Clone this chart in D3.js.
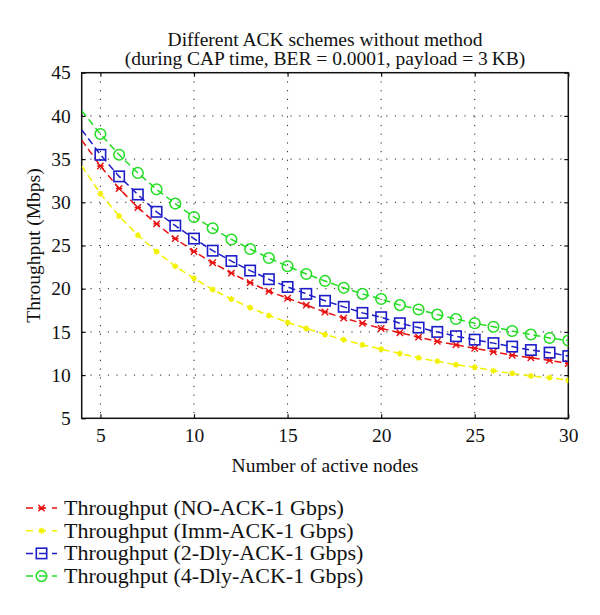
<!DOCTYPE html>
<html>
<head>
<meta charset="utf-8">
<script src="https://cdn.jsdelivr.net/npm/d3@7"></script>
<style>
  body { margin: 0; background: #fff; }
  svg { display: block; }
  text { font-family: "Liberation Serif", "Times New Roman", serif; fill: #111; }
</style>
</head>
<body>
<svg id="chart" width="600" height="615"></svg>
<script>
const nodes = [4,5,6,7,8,9,10,11,12,13,14,15,16,17,18,19,20,21,22,23,24,25,26,27,28,29,30];
const noAck  = [37.2,34.2,31.6,29.4,27.5,25.8,24.3,23.0,21.8,20.7,19.7,18.9,18.1,17.3,16.6,16.0,15.4,14.9,14.4,13.9,13.5,13.1,12.7,12.3,12.0,11.7,11.35];
const immAck = [34.2,31.0,28.4,26.2,24.3,22.6,21.2,19.9,18.8,17.8,16.9,16.1,15.4,14.7,14.1,13.5,13.0,12.5,12.0,11.6,11.2,10.9,10.5,10.2,9.9,9.7,9.4];
const dly2Ack = [38.4,35.5,33.0,30.9,28.9,27.3,25.8,24.4,23.2,22.1,21.1,20.2,19.4,18.6,17.9,17.2,16.7,16.0,15.5,15.0,14.5,14.1,13.7,13.3,12.9,12.6,12.2];
const dly4Ack = [40.6,37.9,35.5,33.4,31.5,29.85,28.3,27.0,25.7,24.6,23.55,22.6,21.7,20.9,20.1,19.4,18.8,18.1,17.6,17.0,16.5,16.0,15.6,15.1,14.7,14.3,14.0];
const seriesNames = ["Throughput (NO-ACK-1 Gbps)","Throughput (Imm-ACK-1 Gbps)","Throughput (2-Dly-ACK-1 Gbps)","Throughput (4-Dly-ACK-1 Gbps)"];
const seriesColors = ["#e81010","#f2f200","#1c1cc8","#22dd22"];
const seriesMarkers = ["x","star","square","circle"];
const xTicks = [5,10,15,20,25,30];
const yTicks = [5,10,15,20,25,30,35,40,45];
const titleLines = ["Different ACK schemes without method","(during CAP time, BER = 0.0001, payload = 3\u2009KB)"];
const xLabel = "Number of active nodes";
const yLabel = "Throughput (Mbps)";

const svg = d3.select("#chart");
const L = 81.7, R = 568.3, T = 72.7, B = 418.3;
const x = d3.scaleLinear().domain([4,30]).range([L,R]);
const y = d3.scaleLinear().domain([5,45]).range([B,T]);
const FS = "19.5px";

// grid
const grid = svg.append("g");
grid.selectAll("line.gx").data(xTicks.filter(d=>d<30)).join("line")
  .attr("x1",d=>x(d)).attr("x2",d=>x(d)).attr("y1",T).attr("y2",B)
  .attr("stroke","#222").attr("stroke-width",1).attr("stroke-dasharray","1.2,7.5");
grid.selectAll("line.gy").data(yTicks.filter(d=>d>5 && d<45)).join("line")
  .attr("y1",d=>y(d)).attr("y2",d=>y(d)).attr("x1",L).attr("x2",R)
  .attr("stroke","#222").attr("stroke-width",1).attr("stroke-dasharray","1.2,7.5");

// axes with inward ticks
const tickLen = 4;
const axB = svg.append("g").attr("transform",`translate(0,${B})`)
  .call(d3.axisBottom(x).tickValues(xTicks).tickSizeInner(-tickLen).tickSizeOuter(0).tickPadding(10));
const axT = svg.append("g").attr("transform",`translate(0,${T})`)
  .call(d3.axisTop(x).tickValues(xTicks).tickSizeInner(-tickLen).tickSizeOuter(0).tickFormat(""));
const axL = svg.append("g").attr("transform",`translate(${L},0)`)
  .call(d3.axisLeft(y).tickValues(yTicks).tickSizeInner(-tickLen).tickSizeOuter(0).tickPadding(11));
const axR = svg.append("g").attr("transform",`translate(${R},0)`)
  .call(d3.axisRight(y).tickValues(yTicks).tickSizeInner(-tickLen).tickSizeOuter(0).tickFormat(""));
[axB,axT,axL,axR].forEach(a=>{
  a.select(".domain").remove();
  a.selectAll(".tick line").attr("stroke","#111").attr("stroke-width",1.2);
  a.selectAll(".tick text").style("font-family","'Liberation Serif', serif").style("font-size",FS).attr("fill","#111");
});
svg.append("rect").attr("x",L).attr("y",T).attr("width",R-L).attr("height",B-T)
  .attr("fill","none").attr("stroke","#111").attr("stroke-width",1.5);

// series
const allSeries = [noAck, immAck, dly2Ack, dly4Ack];
const line = d3.line().x(d=>x(d[0])).y(d=>y(d[1]));
svg.append("clipPath").attr("id","clip").append("rect")
  .attr("x",L).attr("y",T).attr("width",R-L).attr("height",B-T);

function drawMarker(g, type, color, cx, cy) {
  if (type === "x") {
    const s = 3.2;
    g.append("path").attr("d",`M${cx-s},${cy-s}L${cx+s},${cy+s}M${cx-s},${cy+s}L${cx+s},${cy-s}M${cx-s},${cy}L${cx+s},${cy}`)
      .attr("stroke",color).attr("stroke-width",1.4).attr("fill","none");
  } else if (type === "star") {
    const s = 3;
    g.append("path").attr("d",`M${cx-s},${cy}L${cx+s},${cy}M${cx},${cy-s}L${cx},${cy+s}M${cx-s*0.7},${cy-s*0.7}L${cx+s*0.7},${cy+s*0.7}M${cx-s*0.7},${cy+s*0.7}L${cx+s*0.7},${cy-s*0.7}`)
      .attr("stroke",color).attr("stroke-width",1.4).attr("fill","none");
  } else if (type === "square") {
    const s = 5.2;
    g.append("rect").attr("x",cx-s).attr("y",cy-s).attr("width",2*s).attr("height",2*s)
      .attr("stroke",color).attr("stroke-width",1.6).attr("fill","none");
  } else if (type === "circle") {
    g.append("circle").attr("cx",cx).attr("cy",cy).attr("r",5.3)
      .attr("stroke",color).attr("stroke-width",1.5).attr("fill","none");
  }
}

allSeries.forEach((vals,i)=>{
  const pts = nodes.map((n,j)=>[n,vals[j]]);
  const g = svg.append("g").attr("clip-path","url(#clip)");
  g.append("path").attr("d",line(pts)).attr("fill","none")
    .attr("stroke",seriesColors[i]).attr("stroke-width",1.5).attr("stroke-dasharray","7,4");
  pts.filter(p=>p[0]>=5).forEach(p=>drawMarker(g, seriesMarkers[i], seriesColors[i], x(p[0]), y(p[1])));
});

// titles
svg.append("text").attr("x",(L+R)/2).attr("y",46).attr("text-anchor","middle").style("font-size",FS).text(titleLines[0]);
svg.append("text").attr("x",(L+R)/2).attr("y",65).attr("text-anchor","middle").style("font-size",FS).text(titleLines[1]);
svg.append("text").attr("x",(L+R)/2).attr("y",472).attr("text-anchor","middle").style("font-size",FS).text(xLabel);
svg.append("text").attr("transform",`translate(40,${(T+B)/2}) rotate(-90)`).attr("text-anchor","middle").style("font-size",FS).text(yLabel);

// legend
const lg = svg.append("g");
seriesNames.forEach((name,i)=>{
  const cy = 508 + i*22.7;
  lg.append("line").attr("x1",26).attr("x2",57).attr("y1",cy).attr("y2",cy)
    .attr("stroke",seriesColors[i]).attr("stroke-width",1.5).attr("stroke-dasharray","7,6");
  drawMarker(lg, seriesMarkers[i], seriesColors[i], 41.5, cy);
  lg.append("text").attr("x",64).attr("y",cy+7).style("font-size","22px").text(name);
});
</script>
</body>
</html>
